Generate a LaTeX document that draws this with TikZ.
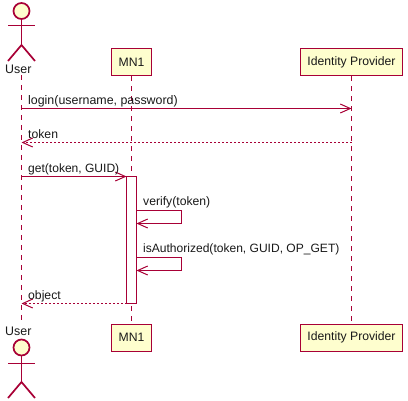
\documentclass[tikz,border=0pt]{standalone}
\usepackage{fontspec}
\setmainfont{Liberation Sans}
\usetikzlibrary{arrows.meta}
\definecolor{umlline}{HTML}{A80036}
\definecolor{umlfill}{HTML}{FEFECE}
\tikzset{
  x=1pt,y=-1pt,
  partbox/.style={draw=umlline,fill=umlfill,line width=1pt,minimum height=27pt,inner sep=0pt,font=\fontsize{12.2}{15}\selectfont,text=black!90},
  lifeline/.style={draw=umlline,line width=1pt,dash pattern=on 5pt off 5pt},
  msg/.style={draw=umlline,line width=1pt,-{Straight Barb[length=10pt,width=9pt,line width=1pt]}},
  retmsg/.style={msg,dash pattern=on 2pt off 2pt},
  msglabel/.style={anchor=base west,inner sep=0pt,font=\fontsize{12.2}{15}\selectfont,text=black!90},
  actorlabel/.style={anchor=base,inner sep=0pt,font=\fontsize{12.4}{15}\selectfont,text=black!90},
  actorlimb/.style={draw=umlline,line width=1.7pt},
  activation/.style={draw=umlline,fill=white,line width=1pt}
}
\begin{document}
\begin{tikzpicture}
\useasboundingbox (0,0) rectangle (408,400);
\fill[white] (0,0) rectangle (408,400);
% participants
\node[partbox,minimum width=40pt] (mnT) at (131.5,62) {MN1};
\node[partbox,minimum width=102pt] (idT) at (351.5,62) {Identity Provider};
\node[partbox,minimum width=40pt] (mnB) at (131.5,337.5) {MN1};
\node[partbox,minimum width=102pt] (idB) at (351.5,337.5) {Identity Provider};
\node[actorlabel] (userT) at (18.3,73.5) {User};
\node[actorlabel] (userB) at (18.3,335) {User};
% free ends
\coordinate (uT) at (21.5,75);
\coordinate (uB) at (21.5,321);
% lifelines
\draw[lifeline] (uT) -- (uB);
\draw[lifeline] (mnT.south) -- (mnB.north);
\draw[lifeline] (idT.south) -- (idB.north);
% actors
\node[circle,draw=umlline,fill=umlfill,line width=1.7pt,minimum size=16pt,inner sep=0pt] (headT) at (21.5,11) {};
\coordinate (hipT) at (21.5,45);
\draw[actorlimb] (headT.south) -- (hipT);
\draw[actorlimb] (8,25.5) -- (35,25.5);
\draw[actorlimb] (8,61) -- (hipT) -- (35,61);
\node[circle,draw=umlline,fill=umlfill,line width=1.7pt,minimum size=16pt,inner sep=0pt] (headB) at (21.5,347.5) {};
\coordinate (hipB) at (21.5,382);
\draw[actorlimb] (headB.south) -- (hipB);
\draw[actorlimb] (8,363.5) -- (35,363.5);
\draw[actorlimb] (8,398) -- (hipB) -- (35,398);
% activation
\node[activation,minimum width=10pt,minimum height=127pt,inner sep=0pt] (act) at (131.5,240) {};
% lifeline anchors
\coordinate (a1) at (21.5,108.5); \coordinate (b1) at (351.5,108.5);
\coordinate (a2) at (351.5,142.5); \coordinate (b2) at (21.5,142.5);
\coordinate (a3) at (21.5,176.5); \coordinate (b3) at (126.5,176.5);
\coordinate (a6) at (126.5,303.5); \coordinate (b6) at (21.5,303.5);
% messages
\draw[msg] (a1) -- (b1);
\draw[retmsg] (a2) -- (b2);
\draw[msg] (a3) -- (b3);
\draw[msg] (136.5,210.5) -- (181.5,210.5) -- (181.5,223.5) -- (136.5,223.5);
\draw[msg] (136.5,257.5) -- (181.5,257.5) -- (181.5,270.5) -- (136.5,270.5);
\draw[retmsg] (a6) -- (b6);
% labels
\node[msglabel,font=\fontsize{12.4}{15}\selectfont] (l1) at (28,104) {login(username, password)};
\node[msglabel] (l2) at (28,138) {token};
\node[msglabel,font=\fontsize{12.05}{15}\selectfont] (l3) at (28,172) {get(token, GUID)};
\node[msglabel] (l4) at (143,205) {verify(token)};
\node[msglabel,font=\fontsize{12.05}{15}\selectfont] (l5) at (143,252) {isAuthorized(token, GUID, OP\_GET)};
\node[msglabel] (l6) at (28,299) {object};
\end{tikzpicture}
\end{document}
